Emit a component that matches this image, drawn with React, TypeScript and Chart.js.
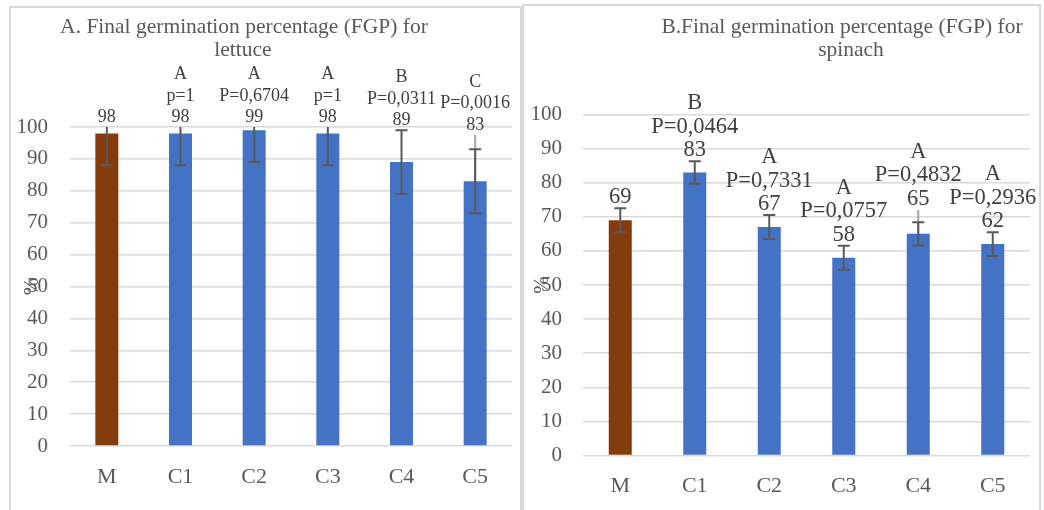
import React, { useEffect, useRef } from "react";
import { Chart, registerables } from "chart.js";

Chart.register(...registerables);

const categories = ["M", "C1", "C2", "C3", "C4", "C5"];

const lettuceValues = [98, 98, 99, 98, 89, 83];
const lettuceErrors = [10, 10, 10, 10, 10, 10];
const lettuceExtraTop: (number | null)[] = [null, null, null, null, null, 97.5];
const lettuceLetters = ["", "A", "A", "A", "B", "C"];
const lettucePValues = ["", "p=1", "P=0,6704", "p=1", "P=0,0311", "P=0,0016"];

const spinachValues = [69, 83, 67, 58, 65, 62];
const spinachErrors = [3.5, 3.3, 3.5, 3.5, 3.4, 3.5];
const spinachExtraTop: (number | null)[] = [null, null, null, null, 72, null];
const spinachLetters = ["", "B", "A", "A", "A", "A"];
const spinachPValues = ["", "P=0,0464", "P=0,7331", "P=0,0757", "P=0,4832", "P=0,2936"];

const barColors = ["#843C0C", "#4472C4", "#4472C4", "#4472C4", "#4472C4", "#4472C4"];

const titleA = ["A. Final germination percentage (FGP) for", "lettuce"];
const titleB = ["B.Final germination percentage (FGP) for", "spinach"];

const yMin = 0;
const yMax = 100;
const yStep = 10;

const SERIF = '"Liberation Serif", "Times New Roman", serif';

type PanelProps = {
  values: number[];
  errors: number[];
  extraTop: (number | null)[];
  letters: string[];
  pvalues: string[];
  title: string[];
  width: number;
  height: number;
  layout: {
    top: number;
    right: number;
    yWidth: number;
    xHeight: number;
    yPad: number;
    xPad: number;
    barPct: number;
    tickFont: number;
    catFont: number;
    labelFont: number;
    labelLine: number;
    titleFont: number;
    titleLines: { x: number; y: number }[];
    pctDx: number;
  };
};

function Panel(p: PanelProps) {
  const ref = useRef<HTMLCanvasElement | null>(null);
  useEffect(() => {
    if (!ref.current) return;
    const L = p.layout;
    const decor = {
      id: "decor",
      afterDatasetsDraw(chart: any) {
        const ctx = chart.ctx;
        const ys = chart.scales.y;
        const meta = chart.getDatasetMeta(0);
        ctx.save();
        // light extra error lines
        p.values.forEach((v, i) => {
          const et = p.extraTop[i];
          if (et == null) return;
          const x = meta.data[i].x;
          ctx.strokeStyle = "#A6A6A6";
          ctx.lineWidth = 2;
          ctx.beginPath();
          ctx.moveTo(x, ys.getPixelForValue(v));
          ctx.lineTo(x, ys.getPixelForValue(et));
          ctx.stroke();
        });
        // error bars
        p.values.forEach((v, i) => {
          const e = p.errors[i];
          const x = meta.data[i].x;
          const topV = Math.min(v + e, yMax);
          const yt = ys.getPixelForValue(topV);
          const yb = ys.getPixelForValue(v - e);
          ctx.strokeStyle = "#595959";
          ctx.lineWidth = 2;
          ctx.beginPath();
          ctx.moveTo(x, yt);
          ctx.lineTo(x, yb);
          ctx.moveTo(x - 6, yb);
          ctx.lineTo(x + 6, yb);
          if (v + e <= yMax) {
            ctx.moveTo(x - 6, yt);
            ctx.lineTo(x + 6, yt);
          }
          ctx.stroke();
        });
        // data labels
        ctx.fillStyle = "#404040";
        ctx.textAlign = "center";
        ctx.textBaseline = "alphabetic";
        ctx.font = `${L.labelFont}px ${SERIF}`;
        p.values.forEach((v, i) => {
          const x = meta.data[i].x;
          let anchor = Math.min(v + p.errors[i], yMax);
          const et = p.extraTop[i];
          if (et != null) anchor = Math.max(anchor, et);
          const base = ys.getPixelForValue(anchor) - 5;
          const lines = [String(v), p.pvalues[i], p.letters[i]].filter((s) => s !== "");
          lines.forEach((s, k) => {
            ctx.fillText(s, x, base - k * L.labelLine);
          });
        });
        // title
        ctx.fillStyle = "#595959";
        ctx.font = `${L.titleFont}px ${SERIF}`;
        p.title.forEach((s, k) => {
          const pos = L.titleLines[k];
          ctx.fillText(s, pos.x, pos.y);
        });
        // rotated axis title
        ctx.font = `${L.tickFont}px ${SERIF}`;
        ctx.translate(chart.chartArea.left + L.pctDx, ys.getPixelForValue(50));
        ctx.rotate(-Math.PI / 2);
        ctx.textBaseline = "middle";
        ctx.fillText("%", 0, 0);
        ctx.restore();
      },
    };
    const chart = new Chart(ref.current, {
      type: "bar",
      data: {
        labels: categories,
        datasets: [
          {
            data: p.values,
            backgroundColor: barColors,
            borderWidth: 0,
            categoryPercentage: 1,
            barPercentage: L.barPct,
          },
        ],
      },
      options: {
        animation: false,
        responsive: false,
        maintainAspectRatio: false,
        layout: { padding: { top: L.top, right: L.right, left: 0, bottom: 0 } },
        plugins: { legend: { display: false }, tooltip: { enabled: false }, title: { display: false } },
        scales: {
          x: {
            grid: { display: false, drawTicks: false },
            border: { display: false },
            ticks: { color: "#595959", font: { family: SERIF, size: L.catFont }, padding: L.xPad },
            afterFit: (s: any) => {
              s.height = L.xHeight;
            },
          },
          y: {
            min: yMin,
            max: yMax,
            ticks: { stepSize: yStep, color: "#595959", font: { family: SERIF, size: L.tickFont }, padding: L.yPad },
            grid: { color: "#D9D9D9", lineWidth: 1.5, drawTicks: false },
            border: { display: false },
            afterFit: (s: any) => {
              s.width = L.yWidth;
            },
          },
        },
      },
      plugins: [decor],
    });
    return () => chart.destroy();
  }, []);
  return <canvas ref={ref} width={p.width} height={p.height} style={{ width: p.width, height: p.height, display: "block" }} />;
}

export default function App() {
  return (
    <div style={{ position: "absolute", left: 0, top: 0, width: 1044, height: 510, background: "#fff", overflow: "hidden" }}>
      <div style={{ position: "absolute", left: 9, top: 6, width: 513, height: 520, border: "2px solid #D9D9D9", boxSizing: "border-box" }} />
      <div style={{ position: "absolute", left: 522, top: 4, width: 519, height: 520, border: "2px solid #D9D9D9", boxSizing: "border-box" }} />
      <div style={{ position: "absolute", left: 11, top: 8 }}>
        <Panel
          values={lettuceValues}
          errors={lettuceErrors}
          extraTop={lettuceExtraTop}
          letters={lettuceLetters}
          pvalues={lettucePValues}
          title={titleA}
          width={509}
          height={502}
          layout={{
            top: 119,
            right: 8,
            yWidth: 59,
            xHeight: 64,
            yPad: 22,
            xPad: 18,
            barPct: 0.312,
            tickFont: 21,
            catFont: 22,
            labelFont: 18,
            labelLine: 21.5,
            titleFont: 21.5,
            titleLines: [
              { x: 233, y: 25 },
              { x: 232, y: 48 },
            ],
            pctDx: -38,
          }}
        />
      </div>
      <div style={{ position: "absolute", left: 524, top: 6 }}>
        <Panel
          values={spinachValues}
          errors={spinachErrors}
          extraTop={spinachExtraTop}
          letters={spinachLetters}
          pvalues={spinachPValues}
          title={titleB}
          width={515}
          height={504}
          layout={{
            top: 108.5,
            right: 9,
            yWidth: 59,
            xHeight: 54.5,
            yPad: 21,
            xPad: 17.5,
            barPct: 0.309,
            tickFont: 21,
            catFont: 22,
            labelFont: 22.5,
            labelLine: 23.5,
            titleFont: 21.5,
            titleLines: [
              { x: 318, y: 27 },
              { x: 327, y: 50 },
            ],
            pctDx: -41,
          }}
        />
      </div>
    </div>
  );
}
